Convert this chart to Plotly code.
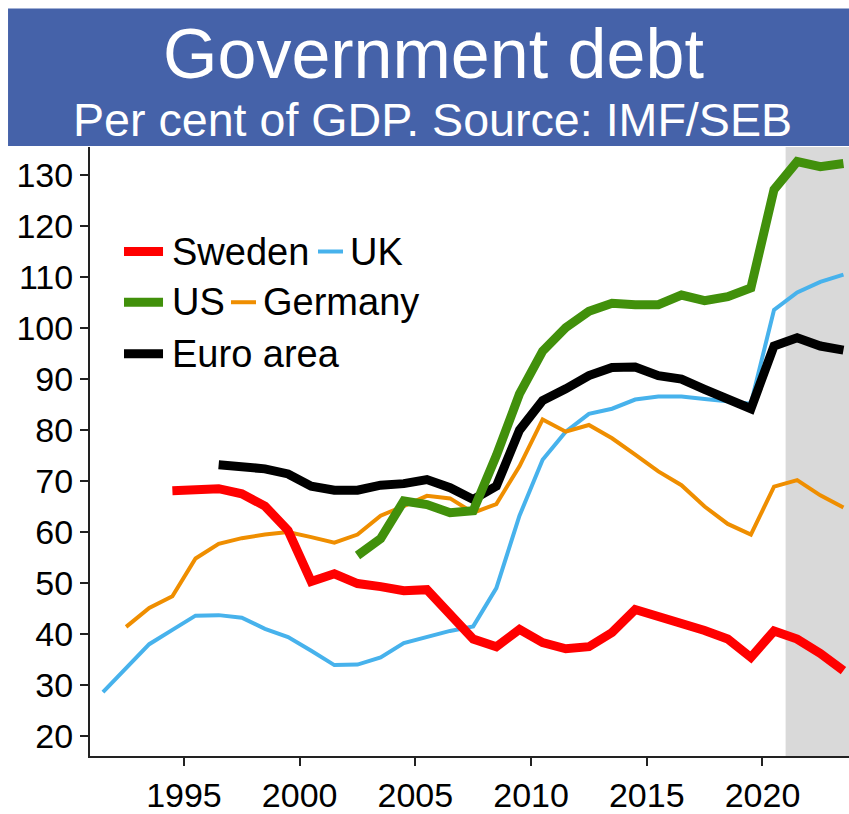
import plotly.graph_objects as go

sweden_years = list(range(1994, 2024))
sweden = [68.1, 68.2, 68.5, 67.5, 65.1, 60.3, 50.3, 51.8, 49.9, 49.3, 48.5, 48.7,
          43.8, 39.0, 37.5, 40.9, 38.3, 37.1, 37.5, 40.3, 44.8, 43.5, 42.1, 40.7,
          39.0, 35.4, 40.6, 39.0, 36.2, 32.8]

uk_years = list(range(1991, 2024))
uk = [28.6, 33.3, 38.0, 40.8, 43.6, 43.7, 43.2, 41.0, 39.4, 36.7, 33.9, 34.0,
      35.4, 38.2, 39.5, 40.6, 41.5, 49.0, 63.2, 74.2, 79.7, 83.2, 84.2, 86.0,
      86.6, 86.6, 86.1, 85.7, 85.2, 103.6, 107.0, 109.1, 110.5]

us_years = list(range(2002, 2024))
us = [55.4, 58.7, 66.1, 65.4, 63.8, 64.2, 75.0, 87.1, 95.5, 100.1, 103.3, 104.9,
      104.6, 104.6, 106.5, 105.4, 106.2, 107.9, 127.2, 132.7, 131.7, 132.3]

germany_years = list(range(1992, 2024))
germany = [41.4, 45.1, 47.4, 54.8, 57.7, 58.8, 59.5, 60.0, 59.0, 57.9, 59.5, 63.2,
           65.1, 67.1, 66.6, 63.8, 65.5, 72.9, 82.1, 79.7, 81.0, 78.4, 75.2, 71.9,
           69.2, 65.0, 61.6, 59.5, 68.9, 70.2, 67.2, 64.8]

euro_years = list(range(1996, 2024))
euro = [73.2, 72.7, 72.4, 71.4, 69.0, 68.2, 68.2, 69.2, 69.5, 70.3, 68.7, 66.4,
        69.0, 80.0, 85.8, 88.1, 90.7, 92.3, 92.4, 90.7, 90.0, 88.0, 86.3, 84.2,
        96.5, 98.1, 96.5, 95.7]

x_ticks = [1995, 2000, 2005, 2010, 2015, 2020]
y_ticks = [20, 30, 40, 50, 60, 70, 80, 90, 100, 110, 120, 130]
forecast_start = 2021

RED = "#FF0000"
BLUE = "#47B2EC"
GREEN = "#41900B"
ORANGE = "#EF8E00"
BLACK = "#000000"
FONT = "Liberation Sans, Arial, sans-serif"


def mid(ys):
    # annual values plotted at mid-year
    return [y + 0.5 for y in ys]


fig = go.Figure()
series = [
    ("UK", uk_years, uk, BLUE, 4),
    ("Germany", germany_years, germany, ORANGE, 4),
    ("Sweden", sweden_years, sweden, RED, 9),
    ("Euro area", euro_years, euro, BLACK, 9),
    ("US", us_years, us, GREEN, 9),
]
for name, xs, ys, col, w in series:
    fig.add_trace(go.Scatter(x=mid(xs), y=ys, mode="lines", name=name,
                             line=dict(color=col, width=w), showlegend=False))

shapes = []
# forecast shading
shapes.append(dict(type="rect", xref="x", yref="paper", x0=forecast_start, x1=2030,
                   y0=0, y1=1, fillcolor="#D9D9D9", line=dict(width=0), layer="below"))
# title box
shapes.append(dict(type="rect", xref="paper", yref="paper", x0=-0.108, x1=1.01,
                   y0=1.0016, y1=1.2273, fillcolor="#4562A9", line=dict(width=0)))

# manual legend
legend_items = [
    ("Sweden", RED, 9, 0.0448, 0.0962, 0.8284, 0.1054),
    ("UK", BLUE, 4, 0.3004, 0.3333, 0.8284, 0.3399),
    ("US", GREEN, 9, 0.0448, 0.0962, 0.7451, 0.1054),
    ("Germany", ORANGE, 4, 0.1858, 0.2187, 0.7451, 0.2253),
    ("Euro area", BLACK, 9, 0.0448, 0.0962, 0.6607, 0.1054),
]
annotations = []
for name, col, w, x0, x1, yy, tx in legend_items:
    shapes.append(dict(type="line", xref="paper", yref="paper", x0=x0, x1=x1,
                       y0=yy, y1=yy, line=dict(color=col, width=w)))
    annotations.append(dict(text=name, xref="paper", yref="paper", x=tx, y=yy,
                            xanchor="left", yanchor="middle", showarrow=False,
                            font=dict(family=FONT, size=38, color="black")))

annotations.append(dict(text="Government debt", xref="paper", yref="paper",
                        x=0.4532, y=1.1535, xanchor="center", yanchor="middle",
                        showarrow=False, font=dict(family=FONT, size=70, color="white")))
annotations.append(dict(text="Per cent of GDP. Source: IMF/SEB", xref="paper", yref="paper",
                        x=0.4506, y=1.0446, xanchor="center", yanchor="middle",
                        showarrow=False, font=dict(family=FONT, size=46.6, color="white")))

fig.update_layout(
    width=849, height=814,
    margin=dict(l=90, r=0, t=147, b=51),
    paper_bgcolor="white", plot_bgcolor="white",
    shapes=shapes, annotations=annotations,
    showlegend=False,
    font=dict(family=FONT, color="black"),
)
fig.update_xaxes(range=[1990.94, 2023.74], tickvals=x_ticks, ticktext=[str(t) for t in x_ticks],
                 showgrid=False, zeroline=False, showline=True, linecolor="#222222", linewidth=2,
                 ticks="outside", ticklen=8, tickwidth=2, tickcolor="#222222",
                 tickfont=dict(family=FONT, size=34, color="black"))
fig.update_yaxes(range=[16.06, 135.55], tickvals=y_ticks,
                 showgrid=False, zeroline=False, showline=True, linecolor="#222222", linewidth=2,
                 ticks="outside", ticklen=8, tickwidth=2, tickcolor="#222222",
                 tickfont=dict(family=FONT, size=34, color="black"))

fig.write_html("out.html")
